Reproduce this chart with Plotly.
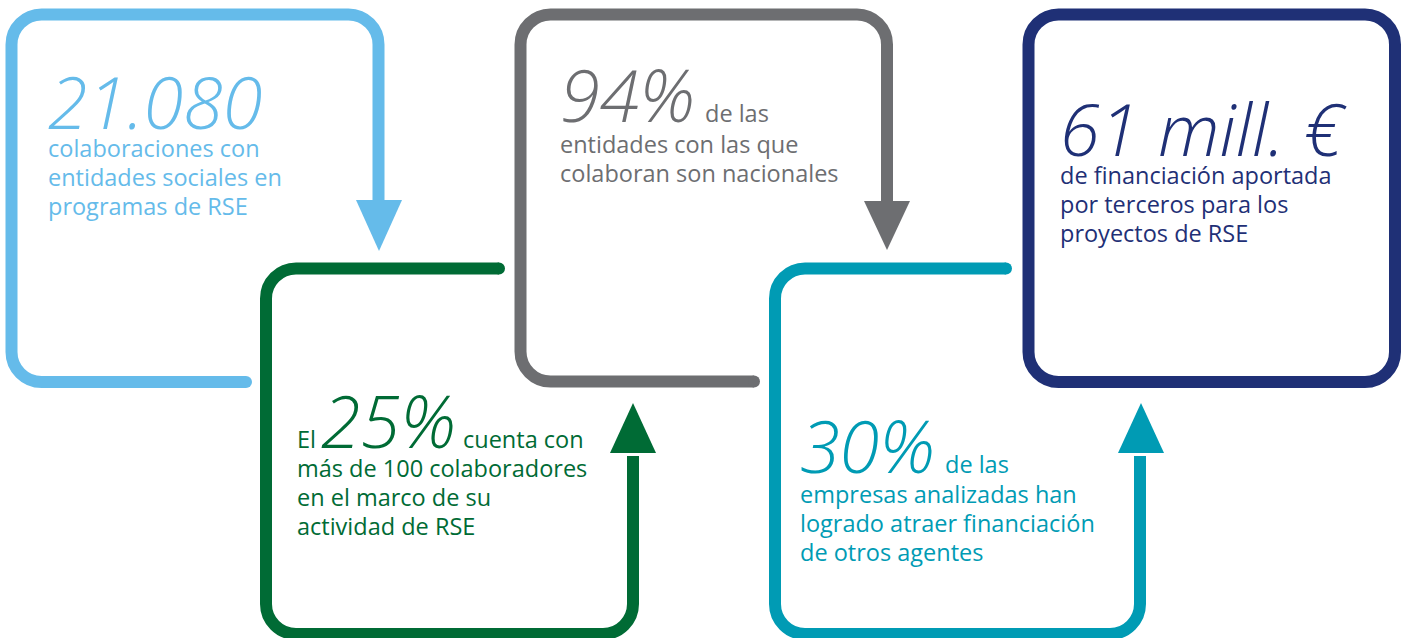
import plotly.graph_objects as go

# --- content ---
stat_values = ["21.080", "25%", "94%", "30%", "61 mill. €"]
stat_prefix = ["", "El", "", "", ""]
stat_suffix = ["", "cuenta con", "de las", "de las", ""]
stat_body = [
    ["colaboraciones con", "entidades sociales en", "programas de RSE"],
    ["más de 100 colaboradores", "en el marco de su", "actividad de RSE"],
    ["entidades con las que", "colaboran son nacionales"],
    ["empresas analizadas han", "logrado atraer financiación", "de otros agentes"],
    ["de financiación aportada", "por terceros para los", "proyectos de RSE"],
]
box_colors = ["#65bbea", "#006b35", "#6d6e71", "#009bb4", "#1f3076"]

W, H = 1408, 638
LW = 12
R = 30

fig = go.Figure()


def corner(x0, y0, x1, y1, cx, cy):
    # cubic corner from (x0,y0) to (x1,y1) bending around (cx,cy)
    ax = x0 + (cx - x0) * 0.55
    ay = y0 + (cy - y0) * 0.55
    bx = x1 + (cx - x1) * 0.55
    by = y1 + (cy - y1) * 0.55
    return f"L{x0},{y0} C{ax},{ay} {bx},{by} {x1},{y1} "


def top_open_down(l, t, r, b, tail, stop):
    # bottom tail -> left -> top -> right side down to arrow
    p = f"M{tail},{b} "
    p += corner(l + R, b, l, b - R, l, b)
    p += corner(l, t + R, l + R, t, l, t)
    p += corner(r - R, t, r, t + R, r, t)
    p += f"L{r},{stop}"
    return p


def bottom_open_up(l, t, r, b, tail, stop):
    # top tail -> left -> bottom -> right side up to arrow
    p = f"M{tail},{t} "
    p += corner(l + R, t, l, t + R, l, t)
    p += corner(l, b - R, l + R, b, l, b)
    p += corner(r - R, b, r, b - R, r, b)
    p += f"L{r},{stop}"
    return p


def cap(x, y, color):
    fig.add_shape(type="circle", x0=x - LW / 2, x1=x + LW / 2, y0=y - LW / 2, y1=y + LW / 2,
                  fillcolor=color, line_width=0, layer="above")


def arrow(x, base, tip, color):
    fig.add_shape(type="path", path=f"M{x - 23},{base} L{x + 23},{base} L{x},{tip} Z",
                  fillcolor=color, line_width=0, layer="above")


line = lambda c: dict(color=c, width=LW)

# box 1 (light blue)
fig.add_shape(type="path", path=top_open_down(11.5, 14.5, 378.5, 382, 246, 204), line=line(box_colors[0]))
cap(246, 382, box_colors[0])
arrow(379, 200, 251, box_colors[0])

# box 2 (green)
fig.add_shape(type="path", path=bottom_open_up(266, 268.5, 633, 634, 499, 456), line=line(box_colors[1]))
cap(499, 268.5, box_colors[1])
arrow(633, 453, 403, box_colors[1])

# box 3 (grey)
fig.add_shape(type="path", path=top_open_down(520.5, 14.5, 887, 381.5, 754, 205), line=line(box_colors[2]))
cap(754, 381.5, box_colors[2])
arrow(887, 201, 250, box_colors[2])

# box 4 (teal)
fig.add_shape(type="path", path=bottom_open_up(775, 268.5, 1140, 634, 1006, 456), line=line(box_colors[3]))
cap(1006, 268.5, box_colors[3])
arrow(1141, 453, 403, box_colors[3])

# box 5 (navy, closed)
p5 = top_open_down(1028.5, 14.5, 1395, 382, 1100, 382 - R)
p5 += corner(1395, 382 - R, 1395 - R, 382, 1395, 382) + "Z"
fig.add_shape(type="path", path=p5, line=line(box_colors[4]))

BIG = 72
SMALL = 23.5
LINE_GAP = 29


def text(x, baseline, s, size, color, big=False):
    top = baseline - 1.07 * size
    font = dict(family="Open Sans", size=size, color=color)
    if big:
        font.update(style="italic", weight=300)
    fig.add_annotation(x=x, y=top, text=s, showarrow=False, xanchor="left", yanchor="top",
                       align="left", font=font, borderpad=0, borderwidth=0)


# (x, headline baseline, body first baseline, prefix x, suffix x)
spots = [
    (48, 129, 157, None, None),
    (321, 448, 477, 297, 463),
    (560, 122, 153, None, 705),
    (800, 473, 503, None, 945),
    (1060, 156, 184, None, None),
]

for i, (x, hb, bb, px, sx) in enumerate(spots):
    c = box_colors[i]
    text(x, hb, stat_values[i], BIG, c, big=True)
    if stat_prefix[i]:
        text(px, hb, stat_prefix[i], SMALL, c)
    if stat_suffix[i]:
        text(sx, hb, stat_suffix[i], SMALL, c)
    bx = px if px is not None else x
    for j, ln in enumerate(stat_body[i]):
        text(bx, bb + j * LINE_GAP, ln, SMALL, c)

fig.update_layout(
    width=W, height=H,
    margin=dict(l=0, r=0, t=0, b=0),
    paper_bgcolor="white", plot_bgcolor="white",
    xaxis=dict(range=[0, W], visible=False, fixedrange=True),
    yaxis=dict(range=[H, 0], visible=False, fixedrange=True),
    showlegend=False,
)

fig.write_html("out.html", config={"displayModeBar": False},
               post_script="document.body.style.margin='0';")
